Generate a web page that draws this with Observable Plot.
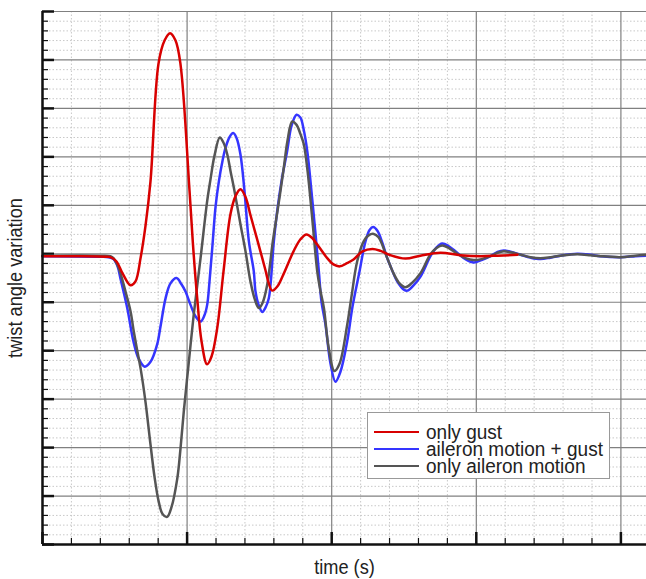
<!DOCTYPE html>
<html><head><meta charset="utf-8">
<script src="https://cdn.jsdelivr.net/npm/d3@7"></script>
<script src="https://cdn.jsdelivr.net/npm/@observablehq/plot@0.6"></script>
<style>
body{margin:0;background:#fff}
#wrap{position:relative;width:646px;height:579px}
#legend{position:absolute;left:367px;top:412px;width:243px;height:67px;background:#fff;border:1px solid #999;box-sizing:border-box;font-family:"Liberation Sans",Arial,sans-serif;font-size:20px;line-height:16px;color:#222}
#legend .row{position:absolute;left:6px;height:16px;display:flex;align-items:center;white-space:nowrap}
#legend .sw{width:45px;height:0;border-top:2.5px solid;margin-right:7px}
#legend .lbl{display:inline-block;line-height:16px;height:16px;transform:scaleX(0.95);transform-origin:left center}
</style>
</head><body>
<div id="wrap"><div id="chart"></div>
<div id="legend"></div></div>
<script>
const seriesNames = ["only gust", "aileron motion + gust", "only aileron motion"];
const seriesColors = ["#d80000", "#3535ff", "#555555"];

const timeGust = [0,0.263,0.436,0.470,0.512,0.553,0.609,0.643,0.678,0.712,0.747,0.802,0.844,0.882,0.920,0.954,1.017,1.044,1.070,1.100,1.138,1.169,1.208,1.252,1.300,1.335,1.369,1.404,1.438,1.473,1.507,1.542,1.563,1.588,1.625,1.667,1.736,1.784,1.826,1.867,1.900,1.969,2.012,2.056,2.102,2.151,2.213,2.282,2.338,2.407,2.510,2.614,2.752,2.891,3.029,3.147,3.285];
const twistGust = [-0.05,-0.05,-0.06,-0.07,-0.16,-0.40,-0.65,-0.57,-0.09,0.57,1.50,3.92,4.40,4.55,4.40,3.92,1.29,0.05,-0.92,-1.81,-2.28,-2.12,-1.54,-0.36,0.82,1.19,1.33,1.17,0.80,0.42,0.05,-0.34,-0.59,-0.76,-0.67,-0.42,0.05,0.30,0.40,0.32,0.19,-0.09,-0.22,-0.26,-0.20,-0.12,0.05,0.10,0.06,-0.03,-0.10,-0.04,0.02,-0.03,-0.05,-0.04,-0.02];

const timeBoth = [0,0.401,0.456,0.491,0.519,0.539,0.586,0.629,0.664,0.707,0.747,0.793,0.816,0.851,0.885,0.927,0.961,0.989,1.023,1.058,1.093,1.120,1.139,1.155,1.174,1.197,1.220,1.245,1.266,1.294,1.319,1.342,1.369,1.397,1.427,1.461,1.473,1.494,1.520,1.542,1.565,1.600,1.623,1.653,1.692,1.722,1.757,1.784,1.805,1.831,1.860,1.888,1.911,1.929,1.957,1.992,2.026,2.061,2.107,2.144,2.188,2.234,2.262,2.287,2.317,2.351,2.384,2.407,2.453,2.499,2.524,2.566,2.614,2.683,2.725,2.764,2.808,2.868,2.925,2.983,3.036,3.098,3.147,3.190,3.237,3.306,3.375,3.444,3.513,3.582,3.698,3.790,3.859,3.997,4.101,4.177];
const twistBoth = [-0.05,-0.06,-0.07,-0.11,-0.26,-0.51,-1.12,-1.81,-2.16,-2.33,-2.23,-1.87,-1.50,-0.92,-0.61,-0.50,-0.63,-0.78,-1.05,-1.29,-1.40,-1.27,-1.05,-0.57,0.12,0.98,1.50,1.92,2.19,2.41,2.49,2.39,2.05,1.29,0.26,-0.36,-0.78,-1.05,-1.20,-1.11,-0.92,0.26,0.88,1.50,2.12,2.64,2.87,2.81,2.58,2.12,1.29,0.41,-0.36,-0.98,-1.46,-2.27,-2.64,-2.43,-1.81,-1.09,-0.43,0.26,0.49,0.55,0.47,0.22,-0.09,-0.26,-0.57,-0.74,-0.76,-0.65,-0.47,-0.05,0.13,0.21,0.16,0.02,-0.11,-0.18,-0.13,-0.05,0.04,0.07,0.04,-0.02,-0.08,-0.11,-0.08,-0.04,0.00,-0.02,-0.05,-0.07,-0.05,-0.04];

const timeAileron = [0,0.401,0.470,0.491,0.517,0.539,0.574,0.609,0.631,0.654,0.678,0.712,0.747,0.775,0.804,0.830,0.862,0.892,0.932,0.954,0.977,1.012,1.046,1.093,1.139,1.162,1.189,1.226,1.252,1.278,1.300,1.328,1.369,1.404,1.438,1.466,1.496,1.521,1.554,1.593,1.625,1.669,1.694,1.727,1.757,1.784,1.807,1.833,1.865,1.900,1.923,1.946,1.978,2.019,2.054,2.107,2.137,2.176,2.222,2.255,2.291,2.324,2.384,2.427,2.469,2.510,2.552,2.614,2.683,2.725,2.764,2.808,2.868,2.925,2.983,3.036,3.098,3.147,3.190,3.237,3.306,3.375,3.444,3.513,3.582,3.698,3.790,3.859,3.997,4.101,4.177];
const twistAileron = [-0.04,-0.04,-0.05,-0.09,-0.22,-0.40,-0.78,-1.19,-1.60,-1.98,-2.36,-3.05,-3.94,-4.61,-5.12,-5.37,-5.43,-5.23,-4.64,-4.03,-3.26,-2.23,-1.25,-0.09,1.09,1.54,2.02,2.40,2.29,2.05,1.71,1.29,0.61,0.05,-0.57,-0.92,-1.12,-1.02,-0.64,0.26,0.88,1.78,2.33,2.73,2.66,2.47,2.26,1.71,0.74,-0.36,-0.78,-1.12,-1.92,-2.42,-2.27,-1.47,-0.88,-0.16,0.26,0.38,0.41,0.34,-0.09,-0.40,-0.61,-0.69,-0.61,-0.40,-0.01,0.12,0.17,0.12,0.00,-0.09,-0.13,-0.11,-0.05,0.02,0.05,0.03,-0.02,-0.07,-0.09,-0.07,-0.04,-0.01,-0.03,-0.05,-0.07,-0.04,-0.02];

const xMajorTicks = [0, 1, 2, 3, 4];
const yMajorTicks = [-6, -5, -4, -3, -2, -1, 0, 1, 2, 3, 4, 5];
const xDomain = [0, 4.177];
const yDomain = [-6, 5];
const xLabel = "time (s)";
const yLabel = "twist angle variation";

const xMinorTicks = d3.range(0, 4.2, 0.2).filter(v => Math.abs(v - Math.round(v)) > 1e-6);
const yMinorTicks = d3.range(-6, 5.01, 0.2).filter(v => Math.abs(v - Math.round(v)) > 1e-6);

const toRows = (t, v, s) => t.map((x, i) => ({t: x, v: v[i], s}));
const dGust = toRows(timeGust, twistGust, seriesNames[0]);
const dBoth = toRows(timeBoth, twistBoth, seriesNames[1]);
const dAil = toRows(timeAileron, twistAileron, seriesNames[2]);

const font = '"Liberation Sans",Arial,sans-serif';
const noText = () => "";

const chart = Plot.plot({
  width: 646, height: 579,
  marginLeft: 42, marginRight: 0, marginTop: 11, marginBottom: 35,
  style: {fontFamily: font, background: "#fff"},
  x: {domain: xDomain},
  y: {domain: yDomain},
  marks: [
    Plot.ruleX(xMinorTicks, {stroke: "#c8c8c8", strokeDasharray: "1.5,2"}),
    Plot.ruleY(yMinorTicks, {stroke: "#c8c8c8", strokeDasharray: "1.5,2"}),
    Plot.ruleX(xMajorTicks, {stroke: "#808080", strokeWidth: 1.2}),
    Plot.ruleY(yMajorTicks, {stroke: "#808080", strokeWidth: 1.2}),
    Plot.axisX({ticks: xMinorTicks, tickSize: -6, tickFormat: noText, label: null, stroke: "#111", strokeWidth: 1.2}),
    Plot.axisX({ticks: xMajorTicks, tickSize: -12, tickFormat: noText, label: null, stroke: "#111", strokeWidth: 2.5}),
    Plot.axisY({ticks: yMinorTicks, tickSize: -6, tickFormat: noText, label: null, stroke: "#111", strokeWidth: 1.2}),
    Plot.axisY({ticks: yMajorTicks, tickSize: -12, tickFormat: noText, label: null, stroke: "#111", strokeWidth: 2.5}),
    Plot.line(dBoth, {x: "t", y: "v", stroke: seriesColors[1], strokeWidth: 2.5, curve: "catmull-rom"}),
    Plot.line(dAil, {x: "t", y: "v", stroke: seriesColors[2], strokeWidth: 2.5, curve: "catmull-rom"}),
    Plot.line(dGust, {x: "t", y: "v", stroke: seriesColors[0], strokeWidth: 2.5, curve: "catmull-rom"}),
    Plot.ruleX([xDomain[0]], {stroke: "#111", strokeWidth: 2.5}),
    Plot.ruleY([yDomain[0]], {stroke: "#111", strokeWidth: 2.5}),
    Plot.text([xLabel], {frameAnchor: "bottom", dy: 29, textAnchor: "middle", lineAnchor: "bottom", fontSize: 20, fill: "#222", className: "axlabel"}),
    Plot.text([yLabel], {frameAnchor: "left", dx: -27, rotate: -90, textAnchor: "middle", lineAnchor: "middle", fontSize: 20, fill: "#222", className: "axlabel"})
  ]
});
document.getElementById("chart").appendChild(chart);

// condense label glyphs to mimic the narrow font of the reference
chart.querySelectorAll(".axlabel text").forEach(t => {
  const L = t.getComputedTextLength();
  t.setAttribute("textLength", (L * 0.91).toFixed(1));
  t.setAttribute("lengthAdjust", "spacingAndGlyphs");
});

const legend = document.getElementById("legend");
seriesNames.forEach((name, i) => {
  const row = document.createElement("div");
  row.className = "row";
  row.style.top = (11 + i * 17) + "px";
  const sw = document.createElement("span");
  sw.className = "sw";
  sw.style.borderTopColor = seriesColors[i];
  row.appendChild(sw);
  const lbl = document.createElement("span");
  lbl.className = "lbl";
  lbl.textContent = name;
  row.appendChild(lbl);
  legend.appendChild(row);
});
</script>
</body></html>
